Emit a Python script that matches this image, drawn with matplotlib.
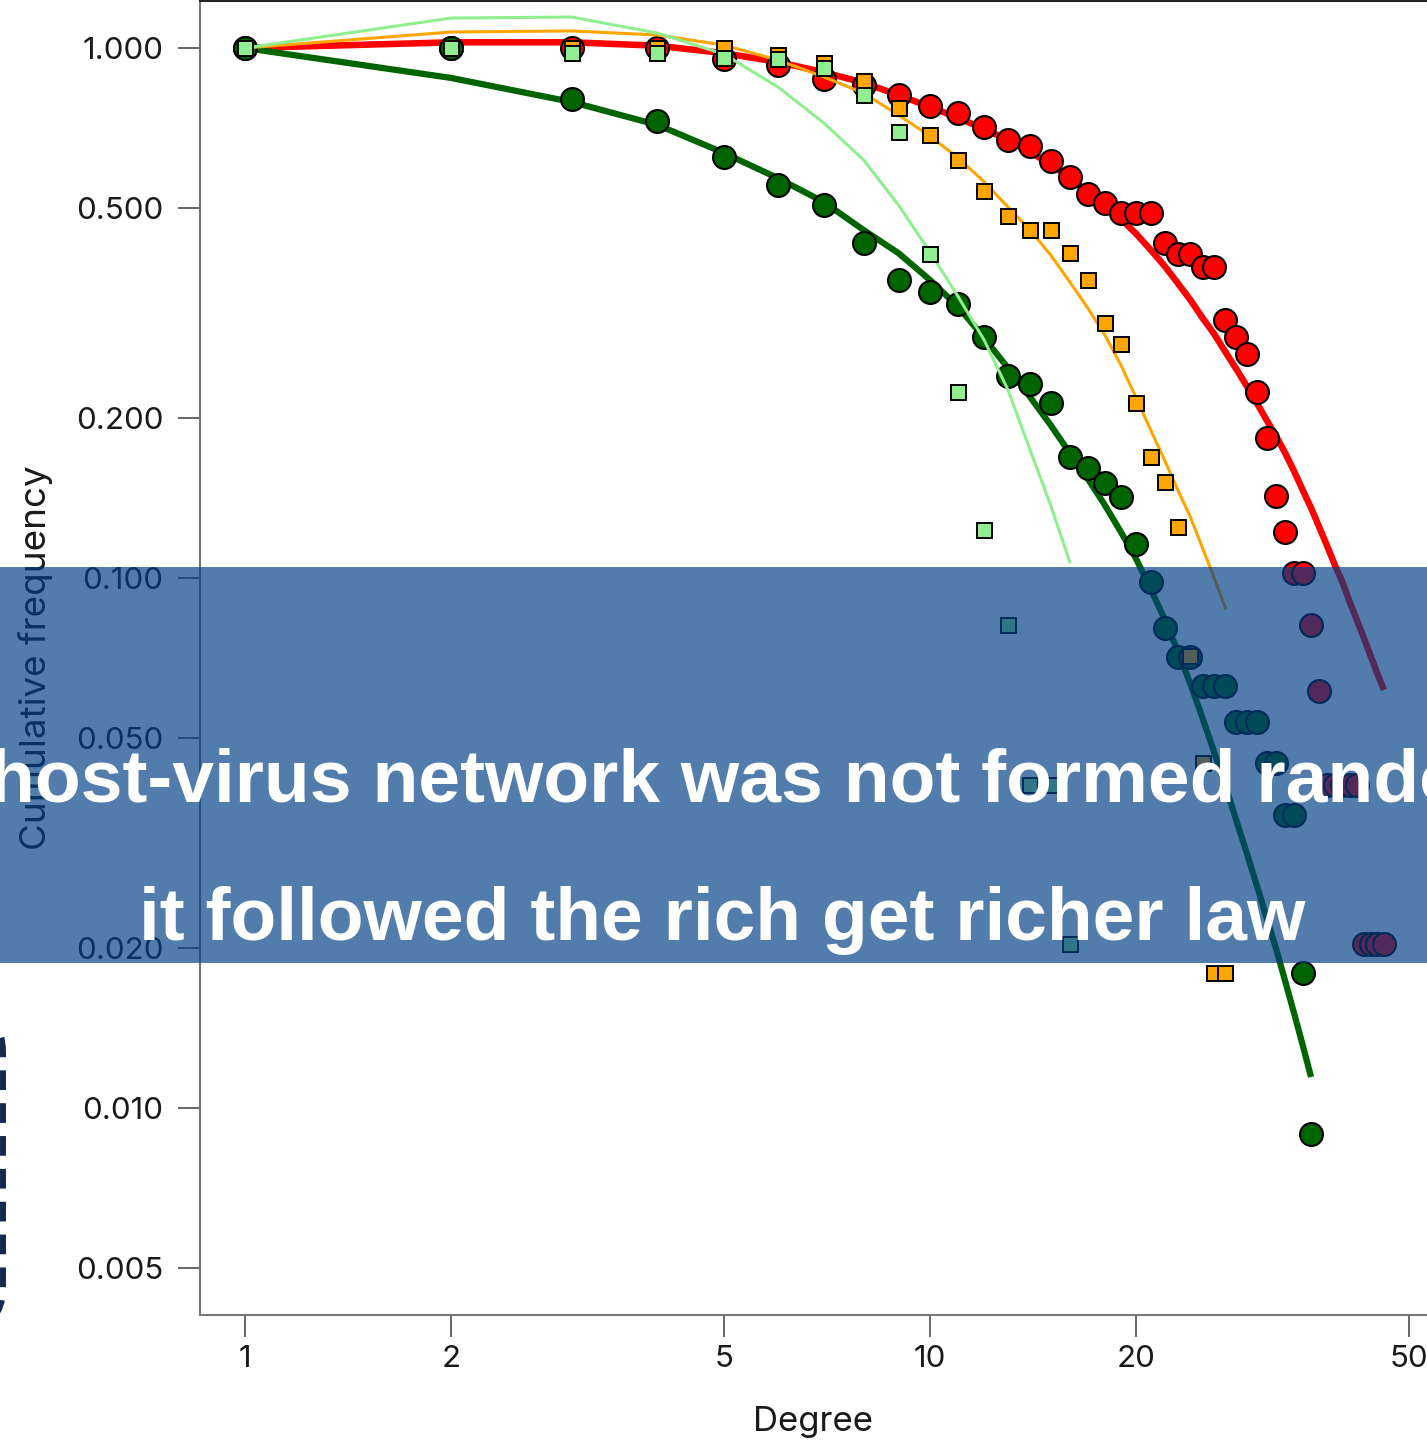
import matplotlib
matplotlib.use('Agg')
import matplotlib.pyplot as plt
from matplotlib.patches import Rectangle, FancyBboxPatch
from matplotlib.ticker import NullLocator, FixedLocator, FixedFormatter
from matplotlib.transforms import Affine2D

plt.rcParams['font.family'] = ['Inter', 'DejaVu Sans']

# --- data ---
red_deg = list(range(1, 47))
red_pts = [1.0, 1.0, 1.0, 1.0, 0.953, 0.929, 0.874, 0.852, 0.815, 0.777,
           0.754, 0.710, 0.671, 0.653, 0.612, 0.571, 0.530, 0.510, 0.488, 0.488,
           0.488, 0.429, 0.408, 0.408, 0.386, 0.386, 0.307, 0.285, 0.265, 0.224,
           0.184, 0.143, 0.122, 0.102, 0.102, 0.0815, 0.0611, 0.0407, 0.0407, 0.0407,
           0.0407, 0.0407, 0.0204, 0.0204, 0.0204, 0.0204]
red_fit = [1.0, 1.025, 1.025, 1.01, 0.978, 0.941, 0.900, 0.860, 0.815, 0.774,
           0.738, 0.703, 0.671, 0.636, 0.604, 0.568, 0.535, 0.506, 0.476, 0.446,
           0.416, 0.388, 0.360, 0.3346, 0.3094, 0.2886, 0.2669, 0.2479, 0.2303, 0.2139,
           0.1987, 0.1853, 0.1721, 0.1591, 0.1466, 0.1356, 0.1248, 0.1149, 0.1058, 0.0983,
           0.0901, 0.0833, 0.0770, 0.0712, 0.0659, 0.0615]

green_deg = list(range(1, 37))
green_pts = [1.0, 1.0, 0.801, 0.728, 0.623, 0.551, 0.506, 0.429, 0.365, 0.346,
             0.329, 0.285, 0.240, 0.232, 0.214, 0.169, 0.161, 0.151, 0.142, 0.116,
             0.0983, 0.0805, 0.0711, 0.0711, 0.0626, 0.0626, 0.0626, 0.0535, 0.0535, 0.0535,
             0.0448, 0.0448, 0.0357, 0.0357, 0.0180, 0.00893]
green_fit = [1.0, 0.878, 0.791, 0.716, 0.634, 0.568, 0.512, 0.4535, 0.410, 0.365,
             0.3246, 0.2837, 0.2489, 0.2195, 0.1944, 0.1721, 0.1538, 0.1373, 0.1221, 0.1086,
             0.0953, 0.0837, 0.0728, 0.0631, 0.0544, 0.0469, 0.0405, 0.0349, 0.0303, 0.0263,
             0.0229, 0.0200, 0.01736, 0.0151, 0.01315, 0.01144]

orange_deg = list(range(1, 28))
orange_pts = [1.0, 1.0, 1.0, 1.0, 1.0, 0.970, 0.937, 0.866, 0.770, 0.685,
              0.615, 0.537, 0.482, 0.4535, 0.4535, 0.410, 0.365, 0.303, 0.276, 0.214,
              0.169, 0.152, 0.125, 0.0712, 0.0448, 0.0180, 0.0180]
orange_fit = [1.0, 1.072, 1.077, 1.058, 1.013, 0.949, 0.882, 0.822, 0.747, 0.682,
              0.620, 0.559, 0.501, 0.4535, 0.407, 0.362, 0.323, 0.2874, 0.2522, 0.2186,
              0.1902, 0.1669, 0.1466, 0.1303, 0.1139, 0.100, 0.0878]

lgreen_deg = list(range(1, 17))
lgreen_pts = [1.0, 1.0, 0.978, 0.978, 0.957, 0.953, 0.917, 0.815, 0.694, 0.409,
              0.224, 0.123, 0.0815, 0.0407, 0.0407, 0.0204]
lgreen_fit = [1.0, 1.139, 1.144, 1.067, 0.974, 0.844, 0.722, 0.615, 0.505, 0.412,
              0.339, 0.281, 0.2263, 0.1744, 0.1373, 0.1072]

x_ticks = [1, 2, 5, 10, 20, 50]
x_labels = ['1', '2', '5', '10', '20', '50']
y_ticks = [0.005, 0.010, 0.020, 0.050, 0.100, 0.200, 0.500, 1.000]
y_labels = ['0.005', '0.010', '0.020', '0.050', '0.100', '0.200', '0.500', '1.000']

banner_lines = ['The host-virus network was not formed randomly,',
                'it followed the rich get richer law']

W, H = 1427, 1440
fig = plt.figure(figsize=(W / 100, H / 100), dpi=100)
px = Affine2D().scale(1 / W, 1 / H) + fig.transFigure

ax = fig.add_axes([200 / W, 125 / H, 1 - 200 / W, 1314 / H])
ax.set_xscale('log')
ax.set_yscale('log')

# series drawn line first, then points
ax.plot(red_deg, red_fit, color='red', lw=4.7, zorder=2, solid_capstyle='butt')
ax.plot(red_deg, red_pts, 'o', ms=16.5, mfc='red', mec='black', mew=1.5, zorder=3)
ax.plot(green_deg, green_fit, color='#006400', lw=4.5, zorder=4, solid_capstyle='butt')
ax.plot(green_deg, green_pts, 'o', ms=16.5, mfc='#006400', mec='black', mew=1.5, zorder=5)
ax.plot(orange_deg, orange_fit, color='orange', lw=2.2, zorder=6)
ax.plot(orange_deg, orange_pts, 's', ms=10.8, mfc='orange', mec='black', mew=1.4, zorder=7)
ax.plot(lgreen_deg, lgreen_fit, color='#90ee90', lw=2.2, zorder=8)
ax.plot(lgreen_deg, lgreen_pts, 's', ms=10.8, mfc='#90ee90', mec='black', mew=1.4, zorder=9)

ax.set_xlim(0.8597, 53.16)
ax.set_ylim(0.004068, 1.2266)
ax.xaxis.set_major_locator(FixedLocator(x_ticks))
ax.xaxis.set_major_formatter(FixedFormatter(x_labels))
ax.xaxis.set_minor_locator(NullLocator())
ax.yaxis.set_major_locator(FixedLocator(y_ticks))
ax.yaxis.set_major_formatter(FixedFormatter(y_labels))
ax.yaxis.set_minor_locator(NullLocator())

for s in ['left', 'bottom']:
    ax.spines[s].set_color('#777777')
    ax.spines[s].set_linewidth(1.5)
ax.spines['top'].set_color('#222222')
ax.spines['top'].set_linewidth(1.5)
ax.spines['right'].set_visible(False)

ax.tick_params(axis='both', length=15.5, width=1.4, color='#666666',
               labelsize=22.5, labelcolor='#1a1a1a')
ax.tick_params(axis='x', pad=6)
ax.tick_params(axis='y', pad=11)

fig.text(813, 1440 - 1431, 'Degree', transform=px, ha='center', va='baseline',
         fontsize=25, color='#1a1a1a')
fig.text(36, 1440 - 658, 'Cumulative frequency', transform=px, ha='center', va='center',
         rotation=90, fontsize=26.5, color='#1a1a1a')

# overlay banner
fig.add_artist(Rectangle((0, 1440 - 963), W, 963 - 567, transform=px,
                         facecolor='#003e85', alpha=0.68, edgecolor='none', zorder=10))
fig.text(722, 1440 - 802, banner_lines[0], transform=px, ha='center', va='baseline',
         fontsize=54, fontweight='bold', color='white', family='Liberation Sans', zorder=11)
fig.text(722, 1440 - 940, banner_lines[1], transform=px, ha='center', va='baseline',
         fontsize=54, fontweight='bold', color='white', family='Liberation Sans', zorder=11)

# dashed rounded frame, mostly off the left edge
fig.add_artist(FancyBboxPatch((-300, 112), 303, 316, transform=px,
                              boxstyle='round,pad=0,rounding_size=40',
                              facecolor='none', edgecolor='#162a4f', lw=4.3,
                              linestyle=(0, (3.3, 2.2)), zorder=10))

fig.savefig('out.png', dpi=100)
